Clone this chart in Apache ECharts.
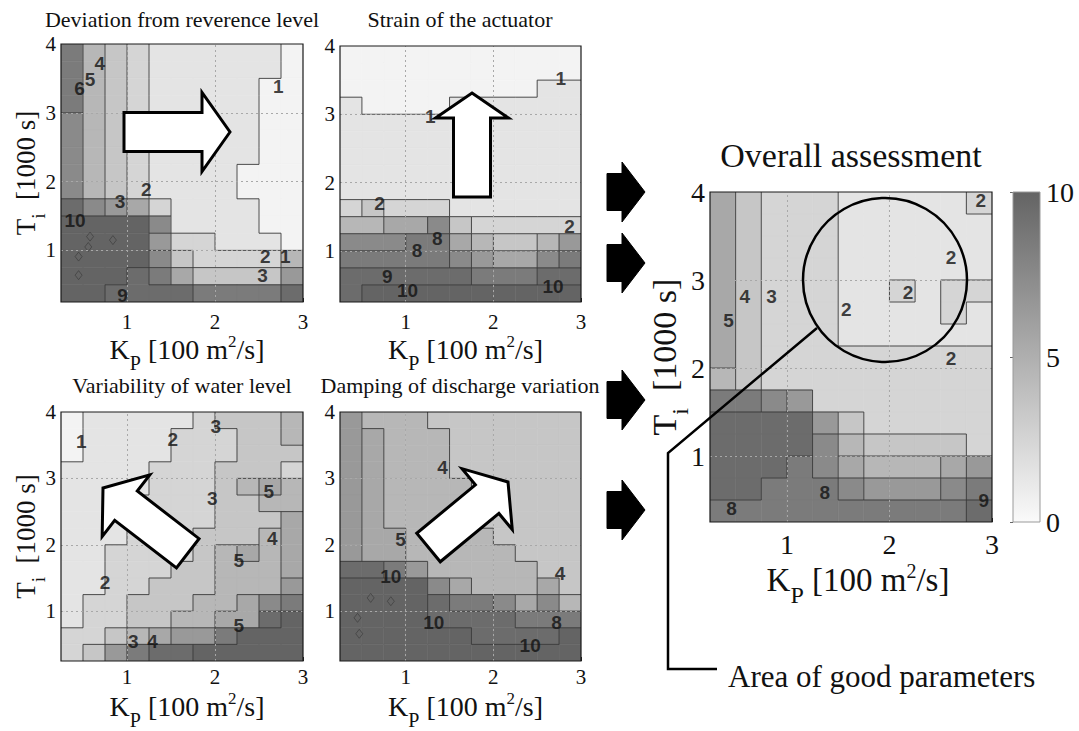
<!DOCTYPE html>
<html>
<head>
<meta charset="utf-8">
<script src="https://cdn.jsdelivr.net/npm/echarts@6/dist/echarts.min.js"></script>
<style>
  html, body { margin: 0; padding: 0; background: #fff; }
  #chart { width: 1079px; height: 731px; }
</style>
</head>
<body>
<div id="chart"></div>
<script>
// Controller gain K_P (cell centres, 100 m^2/s) and reset time T_i (cell centres, 1000 s, top row first)
const kpCenters = [0.375, 0.625, 0.875, 1.125, 1.375, 1.625, 1.875, 2.125, 2.375, 2.625, 2.875];
const tiCenters = [3.875, 3.625, 3.375, 3.125, 2.875, 2.625, 2.375, 2.125, 1.875, 1.625, 1.375, 1.125, 0.875, 0.625, 0.375];
const kpTicks = [1, 2, 3];
const tiTicks = [1, 2, 3, 4];
const kpGridLines = [1, 2];
const tiGridLines = [1, 2, 3];
const colorbarRange = [0, 10];

// Assessment scores (0 = good, 10 = bad), one row per T_i value, one column per K_P value
const deviation = [
  [8.5, 4.5, 3.5, 2.5, 1.5, 1.5, 1.5, 1.5, 1.5, 1.5, 0.5],
  [8.5, 4.5, 3.5, 2.5, 1.5, 1.5, 1.5, 1.5, 1.5, 1.5, 0.5],
  [8.5, 4.5, 3.5, 2.5, 1.5, 1.5, 1.5, 1.5, 1.5, 0.5, 0.5],
  [8.5, 4.5, 3.5, 2.5, 1.5, 1.5, 1.5, 1.5, 1.5, 0.5, 0.5],
  [7.5, 4.5, 3.5, 2.5, 1.5, 1.5, 1.5, 1.5, 1.5, 0.5, 0.5],
  [7.5, 4.5, 3.5, 2.5, 1.5, 1.5, 1.5, 1.5, 1.5, 0.5, 0.5],
  [7.5, 4.5, 3.5, 2.5, 1.5, 1.5, 1.5, 1.5, 1.5, 0.5, 0.5],
  [7.5, 4.5, 3.5, 2.5, 1.5, 1.5, 1.5, 1.5, 0.5, 0.5, 0.5],
  [7.5, 4.5, 3.5, 2.5, 1.5, 1.5, 1.5, 1.5, 0.5, 0.5, 0.5],
  [9.5, 7.5, 6.5, 5.5, 2.5, 1.5, 1.5, 1.5, 1.5, 0.5, 0.5],
  [10.5, 10.5, 10.5, 10.5, 7.5, 1.5, 1.5, 1.5, 1.5, 0.5, 0.5],
  [10.5, 10.5, 10.5, 10.5, 6.5, 2.5, 2.5, 1.5, 1.5, 1.5, 0.5],
  [10.5, 10.5, 10.5, 10.5, 7.5, 3.5, 2.5, 2.5, 2.5, 2.5, 4.5],
  [10.5, 10.5, 10.5, 9.5, 8.5, 5.5, 3.5, 3.5, 3.5, 3.5, 6.5],
  [10.5, 10.5, 9.5, 9.5, 9.5, 9.5, 8.5, 8.5, 8.5, 8.5, 9.5]
];
const strain = [
  [0.5, 0.5, 0.5, 0.5, 0.5, 0.5, 0.5, 0.5, 0.5, 0.5, 0.5],
  [0.5, 0.5, 0.5, 0.5, 0.5, 0.5, 0.5, 0.5, 0.5, 0.5, 0.5],
  [0.5, 0.5, 0.5, 0.5, 0.5, 0.5, 0.5, 0.5, 0.5, 1.5, 1.5],
  [1.5, 0.5, 0.5, 0.5, 0.5, 1.5, 1.5, 1.5, 1.5, 1.5, 1.5],
  [1.5, 1.5, 1.5, 1.5, 1.5, 1.5, 1.5, 1.5, 1.5, 1.5, 1.5],
  [1.5, 1.5, 1.5, 1.5, 1.5, 1.5, 1.5, 1.5, 1.5, 1.5, 1.5],
  [1.5, 1.5, 1.5, 1.5, 1.5, 1.5, 1.5, 1.5, 1.5, 1.5, 1.5],
  [1.5, 1.5, 1.5, 1.5, 1.5, 1.5, 1.5, 1.5, 1.5, 1.5, 1.5],
  [1.5, 1.5, 1.5, 1.5, 1.5, 1.5, 1.5, 1.5, 1.5, 1.5, 1.5],
  [2.5, 3.5, 2.5, 2.5, 2.5, 1.5, 1.5, 1.5, 1.5, 1.5, 1.5],
  [4.5, 4.5, 5.5, 5.5, 7.5, 3.5, 2.5, 2.5, 2.5, 2.5, 2.5],
  [7.5, 7.5, 7.5, 8.5, 8.5, 5.5, 4.5, 3.5, 3.5, 4.5, 6.5],
  [8.5, 8.5, 8.5, 8.5, 8.5, 7.5, 6.5, 5.5, 5.5, 7.5, 8.5],
  [9.5, 9.5, 9.5, 9.5, 9.5, 9.5, 8.5, 8.5, 8.5, 9.5, 9.5],
  [9.5, 10.5, 10.5, 10.5, 10.5, 10.5, 10.5, 10.5, 10.5, 10.5, 10.5]
];
const variability = [
  [0.5, 1.5, 1.5, 1.5, 1.5, 1.5, 2.5, 3.5, 3.5, 3.5, 4.5],
  [0.5, 1.5, 1.5, 1.5, 1.5, 2.5, 2.5, 2.5, 3.5, 3.5, 4.5],
  [0.5, 1.5, 1.5, 1.5, 1.5, 2.5, 2.5, 2.5, 3.5, 3.5, 3.5],
  [1.5, 1.5, 1.5, 1.5, 2.5, 2.5, 2.5, 3.5, 3.5, 3.5, 2.5],
  [1.5, 1.5, 1.5, 1.5, 2.5, 2.5, 2.5, 3.5, 4.5, 5.5, 4.5],
  [1.5, 1.5, 1.5, 2.5, 2.5, 2.5, 2.5, 3.5, 3.5, 4.5, 4.5],
  [1.5, 1.5, 1.5, 2.5, 2.5, 2.5, 2.5, 3.5, 3.5, 3.5, 5.5],
  [1.5, 1.5, 1.5, 2.5, 2.5, 2.5, 3.5, 3.5, 3.5, 4.5, 5.5],
  [1.5, 1.5, 2.5, 2.5, 2.5, 2.5, 3.5, 4.5, 5.5, 4.5, 5.5],
  [1.5, 1.5, 2.5, 2.5, 2.5, 3.5, 3.5, 4.5, 4.5, 4.5, 5.5],
  [1.5, 1.5, 2.5, 2.5, 3.5, 3.5, 3.5, 4.5, 4.5, 4.5, 6.5],
  [1.5, 2.5, 2.5, 3.5, 3.5, 3.5, 4.5, 4.5, 5.5, 7.5, 8.5],
  [1.5, 2.5, 2.5, 3.5, 3.5, 4.5, 4.5, 5.5, 5.5, 9.5, 10.5],
  [2.5, 2.5, 3.5, 4.5, 5.5, 6.5, 6.5, 8.5, 10.5, 10.5, 10.5],
  [2.5, 3.5, 6.5, 8.5, 9.5, 9.5, 10.5, 10.5, 10.5, 10.5, 10.5]
];
const damping = [
  [6.5, 4.5, 4.5, 4.5, 3.5, 3.5, 3.5, 3.5, 3.5, 3.5, 3.5],
  [6.5, 5.5, 4.5, 4.5, 4.5, 3.5, 3.5, 3.5, 3.5, 3.5, 3.5],
  [6.5, 5.5, 4.5, 4.5, 4.5, 3.5, 3.5, 3.5, 3.5, 3.5, 3.5],
  [6.5, 5.5, 4.5, 4.5, 4.5, 3.5, 3.5, 3.5, 3.5, 3.5, 3.5],
  [6.5, 5.5, 4.5, 4.5, 4.5, 4.5, 3.5, 3.5, 3.5, 3.5, 3.5],
  [6.5, 5.5, 4.5, 4.5, 4.5, 4.5, 3.5, 3.5, 3.5, 3.5, 3.5],
  [6.5, 5.5, 4.5, 4.5, 4.5, 4.5, 3.5, 3.5, 3.5, 3.5, 3.5],
  [6.5, 5.5, 5.5, 4.5, 4.5, 4.5, 4.5, 3.5, 3.5, 3.5, 3.5],
  [6.5, 5.5, 5.5, 4.5, 4.5, 4.5, 4.5, 4.5, 3.5, 3.5, 3.5],
  [9.5, 9.5, 8.5, 6.5, 4.5, 4.5, 4.5, 4.5, 4.5, 3.5, 3.5],
  [10.5, 10.5, 10.5, 10.5, 7.5, 5.5, 4.5, 4.5, 4.5, 5.5, 3.5],
  [10.5, 10.5, 10.5, 10.5, 9.5, 8.5, 8.5, 7.5, 5.5, 7.5, 4.5],
  [10.5, 10.5, 10.5, 10.5, 9.5, 9.5, 9.5, 9.5, 8.5, 8.5, 8.5],
  [10.5, 10.5, 10.5, 10.5, 10.5, 10.5, 9.5, 9.5, 9.5, 9.5, 10.5],
  [10.5, 10.5, 10.5, 10.5, 10.5, 10.5, 10.5, 10.5, 10.5, 10.5, 10.5]
];
const overall = [
  [5.5, 3.5, 2.5, 2.5, 2.5, 1.5, 1.5, 1.5, 1.5, 1.5, 2.5],
  [5.5, 3.5, 2.5, 2.5, 2.5, 1.5, 1.5, 1.5, 1.5, 1.5, 1.5],
  [5.5, 3.5, 2.5, 2.5, 2.5, 1.5, 1.5, 1.5, 1.5, 1.5, 1.5],
  [5.5, 3.5, 2.5, 2.5, 2.5, 1.5, 1.5, 1.5, 1.5, 1.5, 1.5],
  [5.5, 3.5, 2.5, 2.5, 2.5, 1.5, 1.5, 2.5, 1.5, 2.5, 2.5],
  [5.5, 3.5, 2.5, 2.5, 2.5, 1.5, 1.5, 1.5, 1.5, 2.5, 1.5],
  [5.5, 3.5, 2.5, 2.5, 2.5, 1.5, 1.5, 1.5, 1.5, 1.5, 1.5],
  [5.5, 3.5, 2.5, 2.5, 2.5, 2.5, 2.5, 2.5, 2.5, 2.5, 2.5],
  [4.5, 3.5, 2.5, 2.5, 2.5, 2.5, 2.5, 2.5, 2.5, 2.5, 2.5],
  [8.5, 8.5, 7.5, 6.5, 2.5, 2.5, 2.5, 2.5, 2.5, 2.5, 2.5],
  [9.5, 9.5, 9.5, 9.5, 6.5, 3.5, 2.5, 2.5, 2.5, 2.5, 2.5],
  [9.5, 9.5, 9.5, 9.5, 7.5, 4.5, 3.5, 3.5, 3.5, 3.5, 2.5],
  [9.5, 9.5, 9.5, 8.5, 7.5, 5.5, 4.5, 4.5, 4.5, 5.5, 6.5],
  [9.5, 9.5, 8.5, 8.5, 8.5, 7.5, 6.5, 6.5, 6.5, 7.5, 8.5],
  [8.5, 8.5, 8.5, 8.5, 8.5, 8.5, 8.5, 8.5, 8.5, 8.5, 9.5]
];

// Contour level labels: [K_P, T_i, level]
const deviationLabels = [[2.72, 3.38, '1'], [1.22, 1.88, '2'], [0.92, 1.71, '3'], [0.69, 3.72, '4'],
  [0.58, 3.48, '5'], [0.46, 3.36, '6'], [2.57, 0.91, '2'], [2.80, 0.91, '1'], [2.54, 0.64, '3'],
  [0.95, 0.35, '9'], [0.41, 1.44, '10']];
const strainLabels = [[1.28, 2.96, '1'], [2.77, 3.52, '1'], [2.87, 1.35, '2'], [0.70, 1.69, '2'],
  [1.36, 1.18, '8'], [1.13, 1.01, '8'], [0.79, 0.62, '9'], [1.02, 0.42, '10'], [2.68, 0.47, '10']];
const variabilityLabels = [[0.48, 3.56, '1'], [1.52, 3.58, '2'], [2.01, 3.78, '3'], [1.97, 2.70, '3'],
  [2.61, 2.80, '5'], [2.65, 2.09, '4'], [2.27, 1.77, '5'], [0.75, 1.43, '2'], [1.07, 0.55, '3'],
  [1.29, 0.55, '4'], [2.27, 0.79, '5']];
const dampingLabels = [[1.42, 3.16, '4'], [0.94, 2.08, '5'], [2.76, 1.57, '4'], [0.83, 1.52, '10'],
  [1.32, 0.83, '10'], [2.42, 0.49, '10'], [2.72, 0.83, '8']];
const overallLabels = [[0.43, 2.54, '5'], [0.59, 2.81, '4'], [0.85, 2.81, '3'], [1.58, 2.66, '2'],
  [2.18, 2.86, '2'], [2.60, 3.26, '2'], [2.60, 2.11, '2'], [2.89, 3.90, '2'], [0.46, 0.40, '8'],
  [1.37, 0.59, '8'], [2.92, 0.50, '9']];

// Small closed contour islands inside the worst region
const deviationIslands = [[0.58, 1.20], [0.84, 1.15], [0.56, 1.05], [0.45, 0.91], [0.45, 0.64]];
const dampingIslands = [[0.60, 1.20], [0.83, 1.15], [0.45, 0.90], [0.47, 0.66]];

const SERIF = "'Liberation Serif', 'Times New Roman', serif";
const SANS = "'Liberation Sans', Arial, sans-serif";
const half = (kpCenters[1] - kpCenters[0]) / 2;

function gray(v) {
  const c = Math.round(250 - 15 * Math.min(Math.max(v, 0), 10));
  return 'rgb(' + c + ',' + c + ',' + c + ')';
}

const panels = [
  { title: 'Deviation from reverence level', values: deviation, labels: deviationLabels, islands: deviationIslands,
    box: { left: 61, top: 44, width: 242, height: 258 }, big: false, yName: true, xMargin: 9, xGap: 24 },
  { title: 'Strain of the actuator', values: strain, labels: strainLabels, islands: [],
    box: { left: 340, top: 46, width: 241, height: 256 }, big: false, yName: false, xMargin: 9, xGap: 24 },
  { title: 'Variability of water level', values: variability, labels: variabilityLabels, islands: [],
    box: { left: 61, top: 412, width: 242, height: 255 }, big: false, yName: true, xMargin: 5, xGap: 22 },
  { title: 'Damping of discharge variation', values: damping, labels: dampingLabels, islands: dampingIslands,
    box: { left: 340, top: 412, width: 241, height: 254 }, big: false, yName: false, xMargin: 5, xGap: 22 },
  { title: 'Overall assessment', values: overall, labels: overallLabels, islands: [],
    box: { left: 710, top: 192, width: 282, height: 330 }, big: true, yName: true, xMargin: 8, xGap: 30 }
];

function richFor(fs) {
  return {
    sub: { fontSize: Math.round(fs * 0.72), fontFamily: SERIF, color: '#111', padding: [Math.round(fs * 0.95), 0, 0, 0] },
    sup: { fontSize: Math.round(fs * 0.62), fontFamily: SERIF, color: '#111', padding: [0, 0, Math.round(fs * 0.56), 0] }
  };
}

function cellRender(params, api) {
  const x = api.value(0), y = api.value(1), v = api.value(2);
  const a = api.coord([x - half, y + half]);
  const b = api.coord([x + half, y - half]);
  const c = gray(v);
  return {
    type: 'rect',
    shape: { x: a[0], y: a[1], width: b[0] - a[0], height: b[1] - a[1] },
    style: { fill: c, stroke: c, lineWidth: 0.6 }
  };
}

function edgeRender(values) {
  return function (params, api) {
    const x = api.value(0), y = api.value(1);
    const row = api.value(3), col = api.value(4);
    const v = values[row][col];
    const children = [];
    const lineStyle = () => ({ stroke: '#3a3a3a', lineWidth: 0.9, fill: null });
    if (col + 1 < values[row].length && values[row][col + 1] !== v) {
      const a = api.coord([x + half, y + half]), b = api.coord([x + half, y - half]);
      children.push({ type: 'line', shape: { x1: a[0], y1: a[1], x2: b[0], y2: b[1] }, style: lineStyle() });
    }
    if (row > 0 && values[row - 1][col] !== v) {
      const a = api.coord([x - half, y + half]), b = api.coord([x + half, y + half]);
      children.push({ type: 'line', shape: { x1: a[0], y1: a[1], x2: b[0], y2: b[1] }, style: lineStyle() });
    }
    return { type: 'group', children: children };
  };
}

const grids = [], xAxes = [], yAxes = [], series = [];

panels.forEach(function (p, i) {
  const tickFs = p.big ? 28 : 21;
  const xNameFs = p.big ? 33 : 28;
  const yNameFs = p.big ? 34 : 27;
  grids.push(Object.assign({ show: true, z: 10, borderColor: '#1a1a1a', borderWidth: 1.2,
    backgroundColor: 'transparent' }, p.box));

  xAxes.push({
    gridIndex: i, type: 'value', min: 0.25, max: 3,
    axisLine: { show: false },
    axisTick: { show: true, inside: true, length: 4, customValues: kpTicks, lineStyle: { color: '#222' } },
    axisLabel: { customValues: kpTicks, margin: p.xMargin, fontSize: tickFs, fontFamily: SERIF, color: '#111' },
    splitLine: { show: false },
    name: 'K{sub|P} [100 m{sup|2}/s]', nameLocation: 'middle', nameGap: p.xGap, nameMoveOverlap: false,
    nameTextStyle: { fontSize: xNameFs, fontFamily: SERIF, color: '#111', rich: richFor(xNameFs),
      padding: p.big ? [0, 0, 0, 14] : [0, 0, 0, 10] }
  });
  yAxes.push({
    gridIndex: i, type: 'value', min: 0.25, max: 4,
    axisLine: { show: false },
    axisTick: { show: true, inside: true, length: 4, customValues: tiTicks, lineStyle: { color: '#222' } },
    axisLabel: { customValues: tiTicks, margin: 5, fontSize: tickFs, fontFamily: SERIF, color: '#111' },
    splitLine: { show: false },
    name: p.yName ? 'T{sub|i}  [1000 s]' : '', nameLocation: 'middle', nameGap: p.big ? 18 : 13, nameRotate: 90,
    nameMoveOverlap: false,
    nameTextStyle: { fontSize: yNameFs, fontFamily: SERIF, color: '#111', rich: richFor(yNameFs) }
  });

  const cells = [];
  p.values.forEach(function (rowVals, r) {
    rowVals.forEach(function (v, c) {
      cells.push([kpCenters[c], tiCenters[r], v, r, c]);
    });
  });

  series.push({
    type: 'custom', name: p.title + ' bands', xAxisIndex: i, yAxisIndex: i, z: 1, clip: true,
    dimensions: ['kp', 'ti', 'score', 'row', 'col'], encode: { x: 0, y: 1 },
    renderItem: cellRender, data: cells, silent: true
  });
  series.push({
    type: 'custom', name: p.title + ' contours', xAxisIndex: i, yAxisIndex: i, z: 3, clip: true,
    dimensions: ['kp', 'ti', 'score', 'row', 'col'], encode: { x: 0, y: 1 },
    renderItem: edgeRender(p.values), data: cells, silent: true,
    markLine: {
      silent: true, symbol: 'none', label: { show: false }, animation: false,
      lineStyle: { type: [2, 3], color: '#a8a8a8', width: 1 },
      data: kpGridLines.map(v => ({ xAxis: v })).concat(tiGridLines.map(v => ({ yAxis: v })))
    }
  });
  if (p.islands.length) {
    series.push({
      type: 'scatter', xAxisIndex: i, yAxisIndex: i, z: 4, silent: true,
      symbol: 'diamond', symbolSize: [7, 9],
      itemStyle: { color: 'transparent', borderColor: '#3a3a3a', borderWidth: 0.8 },
      data: p.islands
    });
  }
  series.push({
    type: 'scatter', xAxisIndex: i, yAxisIndex: i, z: 5, silent: true,
    symbol: 'circle', symbolSize: 1, itemStyle: { color: 'transparent' },
    label: { show: true, position: 'inside', formatter: '{b}', fontFamily: SANS, fontWeight: 'bold',
      fontSize: 19, color: '#111' },
    data: p.labels.map(l => ({ value: [l[0], l[1]], name: l[2] }))
  });
});

// Colour scale of the overall assessment
const cbIndex = panels.length;
grids.push({ show: true, z: 10, borderColor: '#9a9a9a', borderWidth: 1, backgroundColor: 'transparent',
  left: 1013, top: 192, width: 27, height: 330 });
xAxes.push({ gridIndex: cbIndex, type: 'value', min: 0, max: 1, show: false });
yAxes.push({
  gridIndex: cbIndex, type: 'value', position: 'right', min: colorbarRange[0], max: colorbarRange[1], interval: 5,
  axisLine: { show: false },
  axisTick: { show: true, inside: true, length: 3, lineStyle: { color: '#666' } },
  axisLabel: { margin: 6, fontSize: 28, fontFamily: SERIF, color: '#111' },
  splitLine: { show: false }
});
series.push({
  type: 'custom', xAxisIndex: cbIndex, yAxisIndex: cbIndex, z: 1, silent: true,
  data: [colorbarRange],
  renderItem: function (params, api) {
    const lo = api.coord([0, api.value(0)]);
    const hi = api.coord([1, api.value(1)]);
    return {
      type: 'rect',
      shape: { x: lo[0], y: hi[1], width: hi[0] - lo[0], height: lo[1] - hi[1] },
      style: {
        fill: new echarts.graphic.LinearGradient(0, 1, 0, 0, [
          { offset: 0, color: gray(colorbarRange[0]) },
          { offset: 1, color: gray(colorbarRange[1]) }
        ])
      }
    };
  }
});

function arrowPoints(tip, dir, headLen, headW, shaftW, shaftLen) {
  const n = Math.hypot(dir[0], dir[1]);
  const dx = dir[0] / n, dy = dir[1] / n, px = -dy, py = dx;
  const bx = tip[0] - dx * headLen, by = tip[1] - dy * headLen;
  const ex = bx - dx * shaftLen, ey = by - dy * shaftLen;
  return [tip,
    [bx + px * headW / 2, by + py * headW / 2],
    [bx + px * shaftW / 2, by + py * shaftW / 2],
    [ex + px * shaftW / 2, ey + py * shaftW / 2],
    [ex - px * shaftW / 2, ey - py * shaftW / 2],
    [bx - px * shaftW / 2, by - py * shaftW / 2],
    [bx - px * headW / 2, by - py * headW / 2]];
}

function hollowArrow(points) {
  return { type: 'polygon', z: 100, silent: true, shape: { points: points },
    style: { fill: '#fff', stroke: '#000', lineWidth: 3, lineJoin: 'miter' } };
}
function solidArrow(points) {
  return { type: 'polygon', z: 100, silent: true, shape: { points: points },
    style: { fill: '#000', stroke: '#000', lineWidth: 1 } };
}
function titleText(text, x, y, fs) {
  return { type: 'text', z: 100, silent: true, x: x, y: y,
    style: { text: text, fontSize: fs, fontFamily: SERIF, fill: '#111',
      align: 'center', verticalAlign: 'middle', textAlign: 'center', textVerticalAlign: 'middle' } };
}

const graphics = [
  titleText(panels[0].title, 182, 19, 22),
  titleText(panels[1].title, 460, 19, 22),
  titleText(panels[2].title, 182, 385, 22),
  titleText(panels[3].title, 460, 385, 22),
  titleText(panels[4].title, 851, 155, 34),
  // direction of improvement in each criterion
  hollowArrow(arrowPoints([230, 132], [1, 0], 28, 79, 39, 78)),
  hollowArrow(arrowPoints([472, 93], [0, -1], 25, 73, 37, 79)),
  hollowArrow(arrowPoints([103, 488], [-85, -65.5], 29, 78, 37, 78)),
  hollowArrow(arrowPoints([508, 482], [79.5, -65.5], 27, 79, 37, 76)),
  // criteria feeding the overall assessment
  solidArrow(arrowPoints([645, 192], [1, 0], 23, 60, 37, 15)),
  solidArrow(arrowPoints([645, 263], [1, 0], 23, 60, 37, 15)),
  solidArrow(arrowPoints([645, 400], [1, 0], 23, 60, 37, 15)),
  solidArrow(arrowPoints([645, 510], [1, 0], 23, 60, 37, 15)),
  // highlighted region and its callout
  { type: 'circle', z: 100, silent: true, shape: { cx: 885, cy: 280, r: 82 },
    style: { fill: null, stroke: '#000', lineWidth: 2.5 } },
  { type: 'polyline', z: 100, silent: true, shape: { points: [[817, 328], [668, 453], [668, 669], [717, 669]] },
    style: { fill: null, stroke: '#000', lineWidth: 2.5 } },
  { type: 'text', z: 100, silent: true, x: 728, y: 676,
    style: { text: 'Area of good parameters', fontSize: 31, fontFamily: SERIF, fill: '#111',
      align: 'left', verticalAlign: 'middle', textAlign: 'left', textVerticalAlign: 'middle' } }
];

const chart = echarts.init(document.getElementById('chart'), null, { renderer: 'svg' });
chart.setOption({
  backgroundColor: '#fff',
  animation: false,
  grid: grids,
  xAxis: xAxes,
  yAxis: yAxes,
  series: series,
  graphic: graphics
});
</script>
</body>
</html>
